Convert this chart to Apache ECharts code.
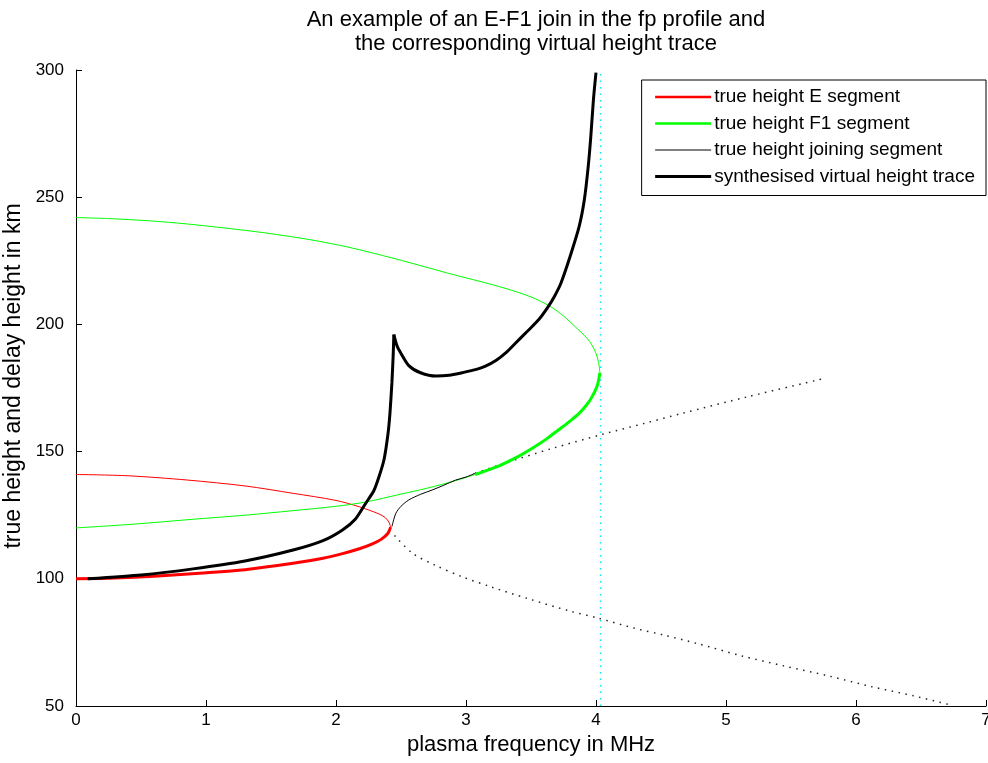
<!DOCTYPE html>
<html>
<head>
<meta charset="utf-8">
<script src="https://cdn.jsdelivr.net/npm/echarts@6/dist/echarts.min.js"></script>
<style>
  html, body { margin: 0; padding: 0; background: #fff; }
  #chart { width: 988px; height: 763px; }
</style>
</head>
<body>
<div id="chart"></div>
<script>
// E-F1 join: true height segments and virtual height trace

var xTicks = [0, 1, 2, 3, 4, 5, 6, 7]
var yTicks = [50, 100, 150, 200, 250, 300]

var legendNames = [
  'true height E segment',
  'true height F1 segment',
  'true height joining segment',
  'synthesised virtual height trace'
]

// E layer, lower (thick) and upper (thin) branch
var eLower = [[0, 100], [0.3, 100.3], [0.6, 101], [0.95, 102.2], [1.3, 103.6], [1.67, 106.1], [1.9, 108.1], [2.05, 109.9],
  [2.18, 111.8], [2.28, 113.7], [2.35, 115.6], [2.4, 117.9], [2.42, 120.3]]
var eUpper = [[2.42, 120.3], [2.41, 122], [2.38, 124], [2.33, 125.5], [2.18, 128.3], [2.0, 130.8], [1.67, 133.6],
  [1.3, 136.5], [0.86, 138.8], [0.4, 140.5], [0, 141]]

// F1 layer
var fLowerThin = [[0, 120], [0.45, 121.5], [0.9, 123.4], [1.3, 125], [1.67, 126.8], [2.0, 128.5], [2.23, 130.2],
  [2.5, 133.3], [2.7, 135.6], [2.92, 138.6], [3.07, 141]]
var fLowerThick = [[3.07, 141], [3.25, 144.3], [3.4, 148], [3.51, 151.3], [3.62, 155], [3.71, 158.5], [3.8, 162],
  [3.87, 165], [3.93, 168.5], [3.97, 171.6], [4.01, 176], [4.03, 181]]
var fUpper = [[4.03, 181], [4.02, 185], [4.0, 188.6], [3.97, 191.8], [3.93, 194.6], [3.84, 199.1], [3.75, 203.3],
  [3.65, 207], [3.5, 210.8], [3.3, 214.2], [3.1, 217], [2.9, 219.6], [2.7, 222.4], [2.44, 226], [2.1, 230.3],
  [1.8, 233.3], [1.45, 236], [1.16, 237.8], [0.85, 239.5], [0.57, 240.7], [0.25, 241.6], [0, 242]]

// joining segment and its dotted extensions
var joinSeg = [[2.43, 120.5], [2.46, 125.7], [2.5, 128.5], [2.56, 131], [2.65, 133.2], [2.74, 134.9], [2.83, 136.8],
  [2.92, 138.8], [3.0, 140], [3.07, 141.5]]
var dotLower = [[2.45, 117], [2.59, 110], [2.76, 105.4], [2.97, 100.8], [3.2, 96.7], [3.47, 92.3], [3.8, 87.3],
  [4.02, 84.5], [4.3, 80.5], [4.52, 77.9], [4.79, 74.4], [5.12, 69.7], [5.45, 65.7], [5.79, 61.8], [6.12, 57.6],
  [6.45, 53.9], [6.72, 50.5]]
var dotUpper = [[3.07, 141.5], [3.3, 145.5], [3.66, 151.2], [4.05, 156.8], [4.38, 161.2], [4.66, 165], [5.17, 171.6],
  [5.76, 178.8]]

// synthesised virtual height
var virtualRise = [[0.09, 100], [0.5, 101.5], [0.9, 103.9], [1.3, 107], [1.67, 111.3], [1.9, 115], [2.05, 119.2],
  [2.15, 123.5], [2.23, 129.8], [2.29, 134.5], [2.33, 140], [2.37, 147], [2.4, 157], [2.415, 165], [2.43, 177],
  [2.44, 188], [2.445, 196]]
var virtualTail = [[2.445, 196], [2.47, 191.5], [2.5, 188.6], [2.56, 183.8], [2.65, 181], [2.77, 179.7], [2.87, 180],
  [2.97, 181], [3.08, 182.3], [3.15, 183.6], [3.23, 185.8], [3.31, 189], [3.38, 192.6], [3.47, 197.2], [3.56, 201.9],
  [3.63, 206.8], [3.68, 211], [3.73, 216.2], [3.8, 226.6], [3.87, 238.4], [3.91, 248.9], [3.94, 262], [3.96, 273.8],
  [3.98, 288.2], [4.0, 299]]

// critical frequency marker
var foF1 = [[4.035, 50], [4.035, 300]]

var FONT = 'Liberation Sans, Arial, sans-serif'

var chart = echarts.init(document.getElementById('chart'))

function line(name, data, color, width, type, smooth) {
  return {
    name: name,
    type: 'line',
    data: data,
    showSymbol: false,
    symbol: 'none',
    smooth: smooth || false,
    silent: true,
    animation: false,
    lineStyle: { color: color, width: width, type: type || 'solid' },
    itemStyle: { color: color }
  }
}

var option = {
  backgroundColor: '#fff',
  title: {
    text: 'An example of an E-F1 join in the fp profile and\nthe corresponding virtual height trace',
    left: 531,
    top: 3,
    textAlign: 'center',
    textStyle: { fontFamily: FONT, fontSize: 22, fontWeight: 'normal', color: '#000', lineHeight: 24 }
  },
  legend: {
    data: [
      { name: legendNames[0], lineStyle: { width: 2.5 } },
      { name: legendNames[1], lineStyle: { width: 2.5 } },
      { name: legendNames[2], lineStyle: { width: 1 } },
      { name: legendNames[3], lineStyle: { width: 3 } }
    ],
    orient: 'vertical',
    right: 2,
    top: 80,
    itemWidth: 56,
    itemHeight: 14,
    itemGap: 6.5,
    padding: [7, 11, 9, 12],
    borderColor: '#000',
    borderWidth: 1,
    backgroundColor: '#fff',
    itemStyle: { opacity: 0 },
    textStyle: { fontFamily: FONT, fontSize: 19, color: '#000', lineHeight: 20, padding: [0, 0, 0, -2] }
  },
  grid: { left: 76, right: 2, top: 70, bottom: 57, outerBoundsMode: 'none', containLabel: false },
  xAxis: {
    type: 'value',
    min: xTicks[0],
    max: xTicks[xTicks.length - 1],
    interval: 1,
    name: 'plasma frequency in MHz',
    nameLocation: 'middle',
    nameGap: 20,
    nameTextStyle: { fontFamily: FONT, fontSize: 22, color: '#000' },
    axisLine: { lineStyle: { color: '#000', width: 1 } },
    axisTick: { inside: true, length: 6, lineStyle: { color: '#000' } },
    axisLabel: { fontFamily: FONT, fontSize: 17, color: '#000', margin: 6, showMaxLabel: true, showMinLabel: true },
    splitLine: { show: false }
  },
  yAxis: {
    type: 'value',
    min: yTicks[0],
    max: yTicks[yTicks.length - 1],
    interval: 50,
    name: 'true height and delay height in km',
    nameLocation: 'middle',
    nameGap: 44,
    nameTextStyle: { fontFamily: FONT, fontSize: 23, color: '#000', padding: [0, 0, 0, 24] },
    axisLine: { show: true, lineStyle: { color: '#000', width: 1 } },
    axisTick: { show: true, inside: true, length: 6, lineStyle: { color: '#000' } },
    axisLabel: { fontFamily: FONT, fontSize: 17, color: '#000', margin: 12 },
    splitLine: { show: false }
  },
  series: [
    line('', foF1, '#00e8f0', 1.5, [1.5, 5]),
    line('', dotLower, '#222', 1.5, [1.5, 5.5], 0.3),
    line('', dotUpper, '#222', 1.5, [1.5, 5.5], 0.3),
    line(legendNames[0], eLower, '#ff0000', 3, 'solid', 0.3),
    line(legendNames[0], eUpper, '#ff0000', 1, 'solid', 0.3),
    line(legendNames[1], fLowerThick, '#00ff00', 3, 'solid', 0.3),
    line(legendNames[1], fLowerThin, '#00ff00', 1, 'solid', 0.3),
    line(legendNames[1], fUpper, '#00ff00', 1, 'solid', 0.3),
    line(legendNames[2], joinSeg, '#000', 1, 'solid', 0.3),
    line(legendNames[3], virtualRise, '#000', 3, 'solid', 0.2),
    line(legendNames[3], virtualTail, '#000', 3, 'solid', 0.3)
  ]
}

//  차트 옵션 설정하기
chart.setOption(option)
</script>
</body>
</html>
